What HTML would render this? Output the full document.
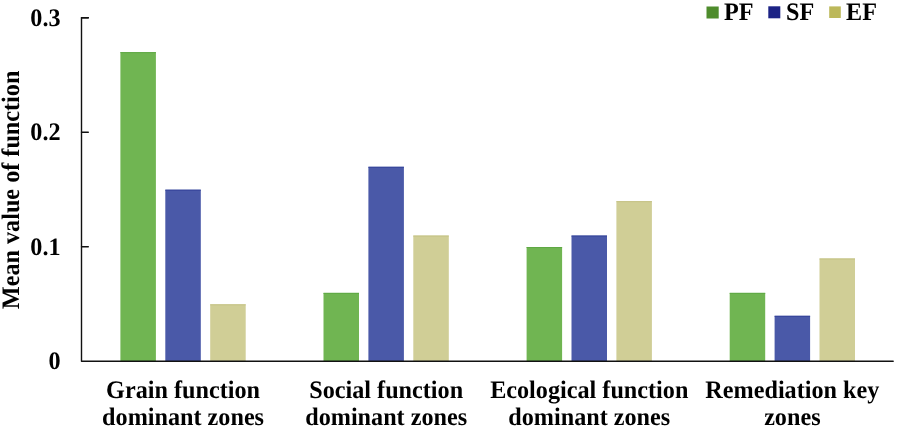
<!DOCTYPE html>
<html><head><meta charset="utf-8"><style>
html,body{margin:0;padding:0;background:#fff;}
svg{display:block;will-change:transform;}
text{text-rendering:geometricPrecision;font-family:"Liberation Serif",serif;font-weight:bold;font-size:24.2px;fill:#000;}
</style></head><body>
<svg width="901" height="428" viewBox="0 0 901 428">
<rect width="901" height="428" fill="#fff"/>
<rect x="120.40" y="52.15" width="35.50" height="309.15" fill="#70b552"/><rect x="120.40" y="52.15" width="35.50" height="1" fill="#5fa845"/><rect x="165.30" y="189.70" width="35.50" height="171.60" fill="#4a59a8"/><rect x="165.30" y="189.70" width="35.50" height="1" fill="#35449a"/><rect x="210.20" y="304.33" width="35.50" height="56.97" fill="#d0ce96"/><rect x="210.20" y="304.33" width="35.50" height="1" fill="#c4c285"/><rect x="323.50" y="292.87" width="35.50" height="68.43" fill="#70b552"/><rect x="323.50" y="292.87" width="35.50" height="1" fill="#5fa845"/><rect x="368.40" y="166.78" width="35.50" height="194.52" fill="#4a59a8"/><rect x="368.40" y="166.78" width="35.50" height="1" fill="#35449a"/><rect x="413.30" y="235.56" width="35.50" height="125.74" fill="#d0ce96"/><rect x="413.30" y="235.56" width="35.50" height="1" fill="#c4c285"/><rect x="526.60" y="247.02" width="35.50" height="114.28" fill="#70b552"/><rect x="526.60" y="247.02" width="35.50" height="1" fill="#5fa845"/><rect x="571.50" y="235.56" width="35.50" height="125.74" fill="#4a59a8"/><rect x="571.50" y="235.56" width="35.50" height="1" fill="#35449a"/><rect x="616.40" y="201.17" width="35.50" height="160.13" fill="#d0ce96"/><rect x="616.40" y="201.17" width="35.50" height="1" fill="#c4c285"/><rect x="729.70" y="292.87" width="35.50" height="68.43" fill="#70b552"/><rect x="729.70" y="292.87" width="35.50" height="1" fill="#5fa845"/><rect x="774.60" y="315.80" width="35.50" height="45.50" fill="#4a59a8"/><rect x="774.60" y="315.80" width="35.50" height="1" fill="#35449a"/><rect x="819.50" y="258.48" width="35.50" height="102.82" fill="#d0ce96"/><rect x="819.50" y="258.48" width="35.50" height="1" fill="#c4c285"/>
<g stroke="#111" stroke-width="1.4" fill="none" stroke-linecap="round" stroke-linejoin="round">
<path d="M88.3 17.71 H81.5 V361.3 H893.2"/>
<line x1="81.5" y1="246.77" x2="88.3" y2="246.77"/><line x1="81.5" y1="132.24" x2="88.3" y2="132.24"/><line x1="81.5" y1="17.71" x2="88.3" y2="17.71"/>
</g>
<text transform="translate(60.60,369.00) scale(1,1.04)" text-anchor="end">0</text><text transform="translate(60.60,254.97) scale(1,1.04)" text-anchor="end">0.1</text><text transform="translate(60.60,140.44) scale(1,1.04)" text-anchor="end">0.2</text><text transform="translate(60.60,25.91) scale(1,1.04)" text-anchor="end">0.3</text>
<text transform="translate(18.60,189.90) rotate(-90) scale(1,1.04)" text-anchor="middle">Mean value of function</text>
<text transform="translate(183.05,398.00) scale(1,1.04)" text-anchor="middle">Grain function</text><text transform="translate(183.05,425.30) scale(1,1.04)" text-anchor="middle">dominant zones</text><text transform="translate(386.15,398.00) scale(1,1.04)" text-anchor="middle">Social function</text><text transform="translate(386.15,425.30) scale(1,1.04)" text-anchor="middle">dominant zones</text><text transform="translate(589.25,398.00) scale(1,1.04)" text-anchor="middle">Ecological function</text><text transform="translate(589.25,425.30) scale(1,1.04)" text-anchor="middle">dominant zones</text><text transform="translate(792.35,398.00) scale(1,1.04)" text-anchor="middle">Remediation key</text><text transform="translate(792.35,425.30) scale(1,1.04)" text-anchor="middle">zones</text>
<rect x="706.5" y="6.5" width="12.2" height="12" fill="#4e8c2c"/>
<text transform="translate(724.00,19.50) scale(1,1.04)">PF</text>
<rect x="768.3" y="6.3" width="12" height="12" fill="#1c2385"/>
<text transform="translate(786.00,19.50) scale(1,1.04)">SF</text>
<rect x="829.2" y="6.4" width="11.6" height="11.6" fill="#bcb85a"/>
<text transform="translate(846.00,19.50) scale(1,1.04)">EF</text>
</svg>
</body></html>
